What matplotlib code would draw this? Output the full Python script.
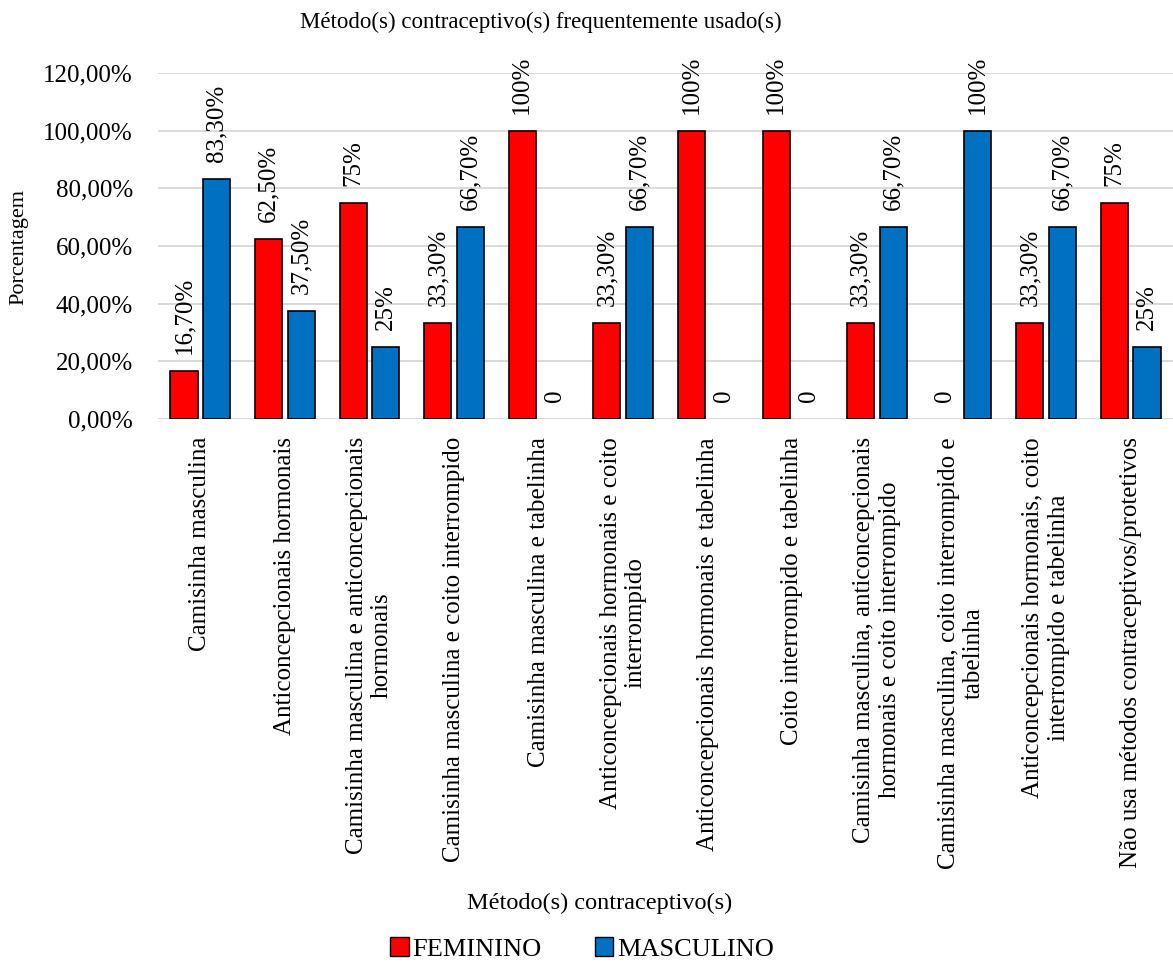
import numpy as np
import matplotlib
matplotlib.use("Agg")
import matplotlib.pyplot as plt
from matplotlib.patches import Patch

plt.rcParams['font.family'] = ['Liberation Serif', 'DejaVu Serif']

categorias = [
    "Camisinha masculina",
    "Anticoncepcionais hormonais",
    "Camisinha masculina e anticoncepcionais\nhormonais",
    "Camisinha masculina e coito interrompido",
    "Camisinha masculina e tabelinha",
    "Anticoncepcionais hormonais e coito\ninterrompido",
    "Anticoncepcionais hormonais e tabelinha",
    "Coito interrompido e tabelinha",
    "Camisinha masculina, anticoncepcionais\nhormonais e coito interrompido",
    "Camisinha masculina, coito interrompido e\ntabelinha",
    "Anticoncepcionais hormonais, coito\ninterrompido e tabelinha",
    "Não usa métodos contraceptivos/protetivos",
]
feminino = [16.7, 62.5, 75, 33.3, 100, 33.3, 100, 100, 33.3, 0, 33.3, 75]
masculino = [83.3, 37.5, 25, 66.7, 0, 66.7, 0, 0, 66.7, 100, 66.7, 25]
rotulos_fem = ["16,70%", "62,50%", "75%", "33,30%", "100%", "33,30%",
               "100%", "100%", "33,30%", "0", "33,30%", "75%"]
rotulos_masc = ["83,30%", "37,50%", "25%", "66,70%", "0", "66,70%",
                "0", "0", "66,70%", "100%", "66,70%", "25%"]
yticks = [0, 20, 40, 60, 80, 100, 120]
ytick_labels = ["0,00%", "20,00%", "40,00%", "60,00%", "80,00%", "100,00%", "120,00%"]

VERMELHO = "#FF0000"
AZUL = "#0070C0"
W, H = 1173, 963

fig = plt.figure(figsize=(W / 100, H / 100), dpi=100)
ax = fig.add_axes([158 / W, 1 - 419 / H, 1 - 158 / W, 346 / H])

x = np.arange(len(categorias))
larg = 0.32
desl = 0.193
b1 = ax.bar(x - desl, feminino, larg, color=VERMELHO, edgecolor="black", linewidth=1.2, zorder=3)
b2 = ax.bar(x + desl, masculino, larg, color=AZUL, edgecolor="black", linewidth=1.2, zorder=3)

for barras, rotulos in [(b1, rotulos_fem), (b2, rotulos_masc)]:
    for b, r in zip(barras, rotulos):
        if b.get_height() == 0:
            b.set_linewidth(0)  # barra vazia nao aparece
        ax.annotate(r, (b.get_x() + b.get_width() / 2, b.get_height()),
                    xytext=(0, 12), textcoords="offset points",
                    rotation=90, ha="center", va="bottom", fontsize=18)

ax.set_xlim(-0.5, len(categorias) - 0.5)
ax.set_ylim(0, 120)
ax.set_yticks(yticks)
ax.set_yticklabels(ytick_labels, fontsize=18)
ax.set_xticks(x)
ax.set_xticklabels(categorias, rotation=90, fontsize=18, va="top", ha="center",
                   multialignment="center")
ax.tick_params(axis="y", length=0, pad=18)
ax.tick_params(axis="x", length=0, pad=13)
ax.grid(axis="y", color="#D9D9D9", linewidth=1.4, zorder=0)
for s in ax.spines.values():
    s.set_visible(False)

fig.text(19 / W, 1 - 247 / H, "Porcentagem", rotation=90,
         ha="center", va="center", fontsize=16)
fig.text(541 / W, 1 - 22 / H, "Método(s) contraceptivo(s) frequentemente usado(s)",
         ha="center", va="center", fontsize=16.5)
fig.text(600 / W, 1 - 903 / H, "Método(s) contraceptivo(s)",
         ha="center", va="center", fontsize=17.5)

handles = [Patch(facecolor=VERMELHO, edgecolor="black", label="FEMININO"),
           Patch(facecolor=AZUL, edgecolor="black", label="MASCULINO")]
fig.legend(handles=handles, loc="center", bbox_to_anchor=(582 / W, 1 - 949 / H),
           ncol=2, frameon=False, fontsize=19, handlelength=0.7, handleheight=0.7,
           handletextpad=0.15, columnspacing=2.0, borderpad=0)

fig.savefig("out.png", dpi=100)
